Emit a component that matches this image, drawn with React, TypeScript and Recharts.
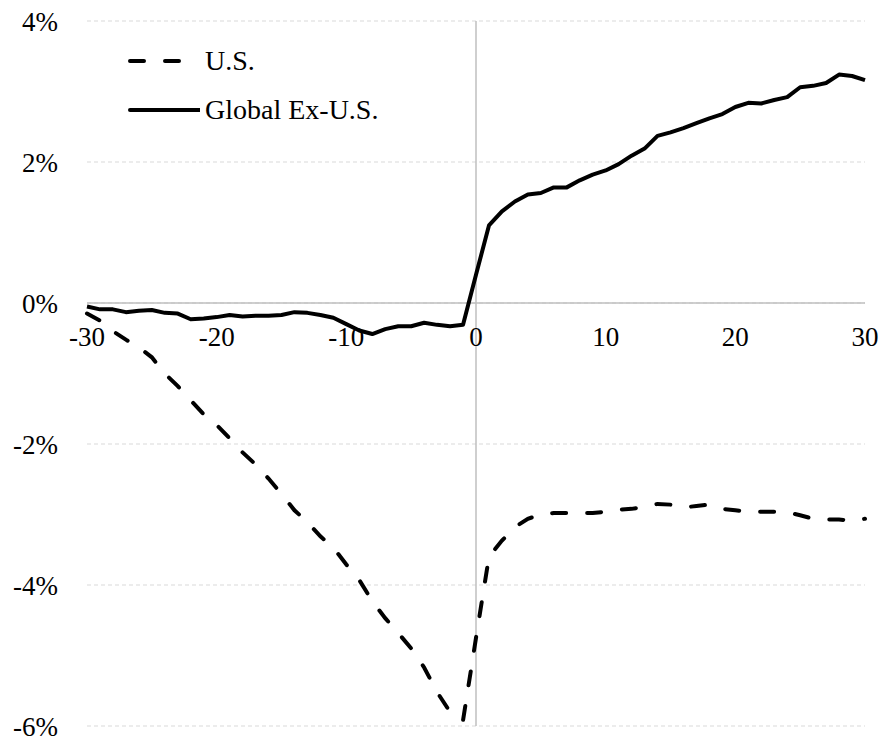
import React from "react";
import {
  LineChart,
  Line,
  XAxis,
  YAxis,
  CartesianGrid,
  ReferenceLine,
  ReferenceDot,
  Legend,
} from "recharts";

const days: number[] = [
  -30, -29, -28, -27, -26, -25, -24, -23, -22, -21, -20, -19, -18, -17, -16,
  -15, -14, -13, -12, -11, -10, -9, -8, -7, -6, -5, -4, -3, -2, -1, 0, 1, 2, 3,
  4, 5, 6, 7, 8, 9, 10, 11, 12, 13, 14, 15, 16, 17, 18, 19, 20, 21, 22, 23, 24,
  25, 26, 27, 28, 29, 30,
];

const usValues: number[] = [
  -0.15, -0.25, -0.4, -0.52, -0.63, -0.77, -1.0, -1.18, -1.38, -1.58, -1.73,
  -1.92, -2.12, -2.29, -2.49, -2.71, -2.94, -3.11, -3.31, -3.47, -3.71, -3.93,
  -4.23, -4.47, -4.68, -4.9, -5.17, -5.52, -5.8, -5.92, -4.75, -3.6, -3.37,
  -3.18, -3.06, -3.0, -2.98, -2.98, -2.98, -2.98, -2.96, -2.93, -2.92, -2.89,
  -2.85, -2.86, -2.9, -2.88, -2.86, -2.92, -2.94, -2.96, -2.96, -2.96, -2.97,
  -3.01, -3.06, -3.07, -3.07, -3.09, -3.06,
];

const globalValues: number[] = [
  -0.05, -0.09, -0.09, -0.13, -0.11, -0.1, -0.14, -0.15, -0.23, -0.22, -0.2,
  -0.17, -0.19, -0.18, -0.18, -0.17, -0.13, -0.14, -0.17, -0.21, -0.3, -0.39,
  -0.44, -0.37, -0.33, -0.33, -0.28, -0.31, -0.33, -0.31, 0.4, 1.1, 1.3, 1.44,
  1.54, 1.56, 1.64, 1.64, 1.74, 1.82, 1.88, 1.97, 2.09, 2.19, 2.37, 2.42, 2.48,
  2.55, 2.62, 2.68, 2.78, 2.84, 2.83, 2.88, 2.92, 3.06, 3.08, 3.12, 3.24, 3.22,
  3.16,
];

const xTickLabels: number[] = [-30, -20, -10, 0, 10, 20, 30];
const yTicks: number[] = [-6, -4, -2, 0, 2, 4];

const seriesNames = { us: "U.S.", global: "Global Ex-U.S." };

const data = days.map((d, i) => ({
  day: d,
  us: usValues[i],
  global: globalValues[i],
}));

const FONT = "'Liberation Serif', 'Times New Roman', serif";
const FONT_SIZE = 27;

const LegendContent = () => (
  <div style={{ fontFamily: FONT, fontSize: FONT_SIZE + 1, color: "#000" }}>
    <div style={{ display: "flex", alignItems: "center", height: 49 }}>
      <svg width={72} height={10} style={{ display: "block" }}>
        <line
          x1={2}
          y1={5}
          x2={70}
          y2={5}
          stroke="#000"
          strokeWidth={4}
          strokeDasharray="14 21"
          strokeLinecap="round"
        />
      </svg>
      <span style={{ marginLeft: 5, whiteSpace: "nowrap" }}>{seriesNames.us}</span>
    </div>
    <div style={{ display: "flex", alignItems: "center", height: 49 }}>
      <svg width={72} height={10} style={{ display: "block" }}>
        <line x1={2} y1={5} x2={72} y2={5} stroke="#000" strokeWidth={4} strokeLinecap="round" />
      </svg>
      <span style={{ marginLeft: 5, whiteSpace: "nowrap" }}>{seriesNames.global}</span>
    </div>
  </div>
);

export default function App() {
  return (
    <div style={{ position: "absolute", left: 0, top: 0, width: 881, height: 741 }}>
      <LineChart
        width={881}
        height={741}
        data={data}
        margin={{ top: 21, right: 16, bottom: 15, left: 0 }}
      >
        <CartesianGrid vertical={false} stroke="#d9d9d9" strokeDasharray="4 3" />
        <XAxis
          dataKey="day"
          type="number"
          domain={[-30, 30]}
          ticks={xTickLabels}
          hide
        />
        <YAxis
          type="number"
          domain={[-6, 4]}
          ticks={yTicks}
          width={87}
          axisLine={false}
          tickLine={false}
          tickMargin={23}
          tickFormatter={(v: number) => `${v}%`}
          tick={{ fill: "#000", fontSize: FONT_SIZE, fontFamily: FONT }}
          interval={0}
        />
        <ReferenceLine y={0} stroke="#bfbfbf" strokeWidth={1.5} />
        <ReferenceLine x={0} stroke="#bfbfbf" strokeWidth={1.5} />
        {xTickLabels.map((t) => (
          <ReferenceDot
            key={t}
            x={t}
            y={0}
            r={0}
            fill="none"
            stroke="none"
            label={{
              value: String(t),
              position: "bottom",
              offset: 24,
              fill: "#000",
              fontSize: FONT_SIZE,
              fontFamily: FONT,
            }}
          />
        ))}
        <Line
          type="linear"
          dataKey="us"
          name={seriesNames.us}
          stroke="#000"
          strokeWidth={4}
          strokeDasharray="14 21"
          strokeLinecap="round"
          dot={false}
          activeDot={false}
          isAnimationActive={false}
        />
        <Line
          type="linear"
          dataKey="global"
          name={seriesNames.global}
          stroke="#000"
          strokeWidth={4}
          strokeLinejoin="round"
          dot={false}
          activeDot={false}
          isAnimationActive={false}
        />
        <Legend
          layout="vertical"
          align="center"
          verticalAlign="middle"
          content={() => <LegendContent />}
          wrapperStyle={{ left: 128, top: 36, width: "auto", height: "auto" }}
        />
      </LineChart>
    </div>
  );
}
